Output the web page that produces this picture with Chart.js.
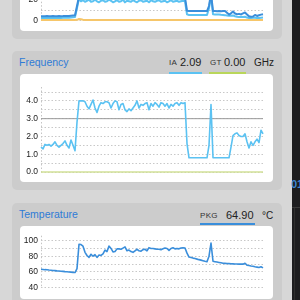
<!DOCTYPE html>
<html><head><meta charset="utf-8">
<script src="https://cdn.jsdelivr.net/npm/chart.js@4.4.1/dist/chart.umd.min.js"></script>
<style>
html,body{margin:0;padding:0;width:300px;height:300px;overflow:hidden;background:#d7d7d7;font-family:"Liberation Sans",Arial,sans-serif;position:relative;}
.panel{position:absolute;left:12px;width:270px;background:#cccccc;border-radius:5px;}
.white{position:absolute;left:20px;width:253px;background:#fff;border-radius:4px;}
canvas{position:absolute;left:20px;}
.t{position:absolute;line-height:1;white-space:nowrap;}
.title{color:#2e7bd6;font-size:10.5px;}
.lab{color:#333;font-size:8px;letter-spacing:0.3px;}
.val{color:#222;font-size:11px;}
.unit{color:#222;font-size:10px;}
.ul{position:absolute;height:2px;}
#strip{position:absolute;left:292px;top:0;width:8px;height:300px;background:#1d1d1f;}
</style></head>
<body>
<div class="panel" style="top:-20px;height:59px"></div>
<div class="white" style="top:-20px;height:51px"></div>
<div class="panel" style="top:51px;height:139px"></div>
<div class="white" style="top:74px;height:108px"></div>
<div class="panel" style="top:203px;height:120px"></div>
<div class="white" style="top:226px;height:73px"></div>
<div id="strip"></div>
<div style="position:absolute;left:292px;top:207px;width:8px;height:1px;background:#3a3a3a"></div>
<div style="position:absolute;left:294px;top:208px;width:1px;height:92px;background:#2e2e2e"></div>
<div class="t" style="left:291px;top:178.5px;font-size:11px;font-weight:bold;color:#3f86d1">01</div>

<div class="t title" style="left:19px;top:56.8px">Frequency</div>
<div class="t lab" style="left:169px;top:58.9px">IA</div>
<div class="t val" style="left:180px;top:56.7px">2.09</div>
<div class="ul" style="left:169px;top:72px;width:33px;background:#5bc2f2"></div>
<div class="t lab" style="left:210px;top:58.9px">GT</div>
<div class="t val" style="left:224px;top:56.7px">0.00</div>
<div class="ul" style="left:209px;top:72px;width:37px;background:#b9d65a"></div>
<div class="t unit" style="left:254px;top:57.5px">GHz</div>

<div class="t title" style="left:19px;top:208.8px">Temperature</div>
<div class="t lab" style="left:200px;top:211.9px">PKG</div>
<div class="t val" style="left:226px;top:209.7px">64.90</div>
<div class="t unit" style="left:262px;top:210.5px">°C</div>
<div class="ul" style="left:200px;top:223px;width:55px;background:#3a8edb"></div>

<canvas id="cPower" width="253" height="71" style="top:-40px;width:253px;height:71px"></canvas>
<canvas id="cFreq" width="253" height="108" style="top:74px;width:253px;height:108px"></canvas>
<canvas id="cTemp" width="253" height="74" style="top:226px;width:253px;height:74px"></canvas>

<script>
// ---- data (one sample per time step) ----
const pkgPower = [4.3,4.2,4.3,4.4,4.3,4.2,4.4,4.3,4.3,4.5,4.3,4.4,4.6,4.4,4.5,4.8,5.0,5.2,
  14,23,
  22,23,21.5,22.5,24,21,22,23.5,22,21, 22.5,23,21.5,22,24,22.5,21,22,23,21.5,
  22,23.5,21,22.5,22,21.5,23,22,21,22.5, 23,21.5,22,22.5,21,23,22,21.5,22.5,23,
  21.5,22,22.5,21,22,23,21.5,22,22.5,21.5, 22,22.5,22,
  9.5,9.2,9.2,9.2,9.2,9.2,9.2,9.2,9.2,9.2,9.2,
  14,26,
  9.2,9.2,9.0,9.2,9.0,9.2,9.2,7.5,5.8,7.0,8.8,6.8,6.2,6.5,6.0,7.0,7.8,6.0,4.2,3.8,4.0,5.5,4.5,5.2,5.8,6.2];
const iaPower = [2.6,2.5,2.6,2.6,2.5,2.6,2.7,2.6,2.6,2.8,2.6,2.7,2.8,2.7,2.8,3.0,3.2,3.4,
  12,21,
  18.5,19.5,18,19,20,18,18.5,20,18.5,17.5, 19,19.5,18,18.5,20,19,17.5,18.5,19.5,18,
  18.5,20,17.5,19,18.5,18,19.5,18.5,17.5,19, 19.5,18,18.5,19,17.5,19.5,18.5,18,19,19.5,
  18,18.5,19,17.5,18.5,19.5,18,18.5,19,18, 18.5,19,18.5,
  6,5.4,5.4,5.4,5.4,5.4,5.4,5.4,5.4,5.4,5.4,
  12,24,
  6.2,6.0,6.0,5.8,5.6,5.5,5.3,5.0,4.8,4.7,5.0,4.2,3.8,3.6,3.8,3.5,3.8,3.0,2.6,2.5,2.7,2.8,2.5,2.6,2.8,3.0];
const gtPower = [0.6,0.6,0.6,0.6,0.6,0.6,0.6,0.6,0.6,0.6,
  0.6,0.6,0.6,0.6,0.6,0.6,0.6,0.6,0.8,1.6,
  1.4,1.0,0.7,0.7,0.7,0.7,0.7,0.7,0.7,0.7,
  0.7,0.7,0.7,0.7,0.7,0.7,0.7,0.7,0.7,0.7,
  0.7,0.7,0.7,0.7,0.7,0.7,0.7,0.7,0.7,0.7,
  0.7,0.7,0.7,0.7,0.7,0.7,0.7,0.7,0.7,0.7,
  0.7,0.7,0.7,0.7,0.7,0.7,0.7,0.7,0.7,0.7,
  0.7,0.7,0.7,0.7,0.7,0.7,0.7,0.7,0.7,0.7,
  0.7,0.7,0.7,0.7,0.7,0.7,0.7,0.7,0.7,0.7,
  0.7,0.7,0.7,0.7,0.7,0.7,0.7,0.7,0.7,0.7,
  0.7,0.7,0.7,0.7,0.7,0.7,0.7,0.7,0.7,0.7,
  0.7,0.7];
const iaFrequency = [1.40,1.30,1.55,1.50,1.55,1.45,1.55,1.70,1.50,1.40,1.50,1.60,1.75,1.50,1.35,1.80,1.50,1.20,
  2.80,4.00,
  4.0,4.0,3.95,3.7,3.55,3.8,4.05,3.6,3.35,3.7, 3.9,3.85,3.95,3.95,3.9,3.6,3.85,4.0,3.95,3.5,
  3.8,3.85,3.5,3.4,3.55,3.45,3.6,3.75,4.0,3.6, 3.8,3.75,3.85,3.9,3.5,3.85,3.7,3.9,3.8,3.65,
  3.9,3.85,3.7,3.85,3.6,3.8,3.7,3.85,3.9,3.75, 3.9,3.85,3.9,
  1.60,0.80,0.80,0.80,0.80,0.80,0.80,0.80,0.80,0.80,0.80,
  1.50,3.80,
  0.80,0.80,0.80,0.80,0.80,0.80,0.80,0.80,0.80,
  1.40,2.05,2.15,2.20,2.05,2.00,2.00,2.15,1.70,1.35,1.70,1.50,1.70,1.85,1.65,2.35,2.15];
const gtFrequency = 0.00;   // GHz, flat
const baseFrequency = 3.0;  // GHz reference line
const pkgTemperature = [63.2,63.0,62.7,62.5,62.2,62.0,61.7,61.5,61.2,61.0,60.7,60.5,60.2,60.0,59.7,59.5,59.2,59.0,
  64,95.5,95,93,85,81,78.5,82.5,80,82,78.5,81.5,81,83,88,86,93,90,85.5,86,89.5,89.5,89,90.5,92,87,88,86,85,87,89,87,
  86.5,88.5,89,87,91,90,90,89.5,89,89,88.5,89.5,90.5,90,87.5,90,91,89.5,90,89.5,90.5,91,90.5,
  84,79,78.3,77.6,77.0,76.3,75.6,75.0,74.3,73.6,73.0,
  80,97,
  73.5,73,72.5,72,71.5,71,70.8,70.6,70.5,70.3,70.2,70.0,70.0,69.9,70.0,69.8,71.0,68.5,68.0,67.5,67.2,66.5,66.0,65.5,66.5,65.0];
const samples = pkgTemperature.map((_, i) => String(i));

// ---- tick label sets ----
const powerTickLabels = [0, 20, 40];
const freqTickLabels = [0, 1, 2, 3, 4];
const tempTickLabels = [40, 60, 80, 100];

const FONT = "'Liberation Sans', Arial, sans-serif";
const dottedAxis = {
  id: 'dottedAxis',
  beforeDatasetsDraw(chart) {
    const {ctx, chartArea: a} = chart;
    const x = Math.round(a.left) + 0.5;
    ctx.save();
    ctx.strokeStyle = '#c4c4c4'; ctx.lineWidth = 1; ctx.setLineDash([1.5, 2]);
    ctx.beginPath(); ctx.moveTo(x, a.top - 5); ctx.lineTo(x, a.bottom); ctx.stroke();
    ctx.restore();
  }
};

function makeChart(id, datasets, y, pad) {
  return new Chart(document.getElementById(id), {
    type: 'line',
    data: { labels: samples, datasets },
    options: {
      responsive: false, animation: false, devicePixelRatio: 1,
      layout: { padding: pad },
      elements: { point: { radius: 0 }, line: { tension: 0, borderJoinStyle: 'round' } },
      plugins: { legend: { display: false }, tooltip: { enabled: false } },
      scales: {
        x: { type: 'category', display: false },
        y: {
          min: y.min, max: y.max,
          afterFit(s) { s.width = 21; },
          ticks: {
            stepSize: y.step, autoSkip: false, padding: 3, color: '#222',
            font: { family: FONT, size: 8.5 },
            callback: (v) => y.labels.includes(v) ? y.fmt(v) : ''
          },
          grid: { color: '#c8c8c8', lineWidth: 1, drawTicks: false },
          border: { display: false, dash: [1.5, 2] }
        }
      }
    },
    plugins: [dottedAxis]
  });
}

makeChart('cPower', [
  { data: pkgPower, borderColor: '#3a8edb', borderWidth: 2, clip: false },
  { data: iaPower, borderColor: '#5bc2f2', borderWidth: 2, clip: false },
  { data: gtPower, borderColor: '#f6c66a', borderWidth: 2, clip: false }
], { min: 0, max: 40, step: 10, labels: powerTickLabels, fmt: v => String(v) },
  { left: 0, right: 10, top: 18.7, bottom: 10.3 });

makeChart('cFreq', [
  { data: iaFrequency, borderColor: '#5bc2f2', borderWidth: 1.6, clip: false },
  { data: [{x: samples[0], y: baseFrequency}, {x: samples[samples.length - 1], y: baseFrequency}], borderColor: '#9b9b9b', borderWidth: 1, clip: false },
  { data: [{x: samples[0], y: gtFrequency}, {x: samples[samples.length - 1], y: gtFrequency}], borderColor: '#d2e197', borderWidth: 1.6, clip: false }
], { min: 0, max: 4.5, step: 0.5, labels: freqTickLabels, fmt: v => v.toFixed(1) },
  { left: 0, right: 10, top: 18, bottom: 10 });

makeChart('cTemp', [
  { data: pkgTemperature, borderColor: '#3a8edb', borderWidth: 1.6, clip: false }
], { min: 40, max: 100, step: 10, labels: tempTickLabels, fmt: v => String(v) },
  { left: 0, right: 10, top: 14.7, bottom: 12.7 });
</script>
</body></html>
